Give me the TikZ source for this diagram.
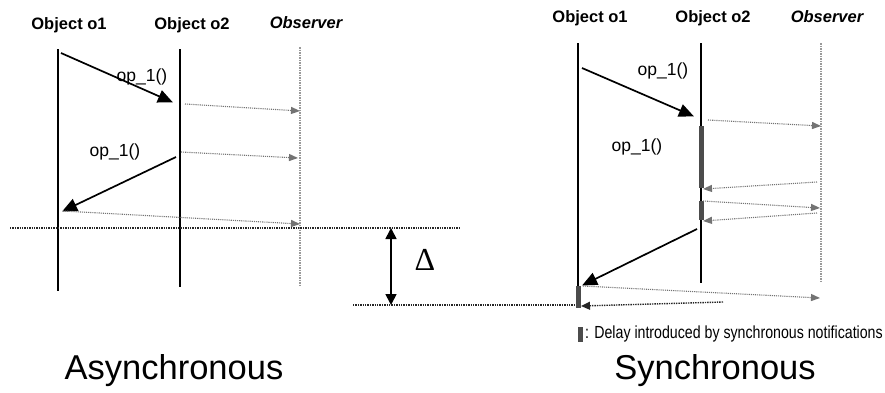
\documentclass[tikz,border=0pt]{standalone}
\usepackage{fontspec}
\setmainfont{Liberation Sans}
\newfontfamily\serifdelta{Liberation Serif}
\usetikzlibrary{arrows.meta}
\definecolor{notifgray}{gray}{0.45}
\definecolor{bargray}{gray}{0.3}
\tikzset{
  header/.style={font=\fontsize{16.5}{18}\selectfont\bfseries, inner sep=0pt},
  obsheader/.style={font=\fontsize{16.5}{18}\selectfont\bfseries\itshape, inner sep=0pt},
  oplabel/.style={font=\fontsize{17.5}{19}\selectfont, inner sep=0pt},
  title/.style={font=\fontsize{34.5}{38}\selectfont, inner sep=0pt},
  lifeline/.style={line width=1.5pt, black},
  obsline/.style={line width=1.5pt, gray!80, densely dotted},
  msg/.style={line width=1.7pt, black, -{Triangle[length=15pt,width=13pt]}, shorten >=-1pt},
  notif/.style={line width=1.1pt, notifgray, densely dotted, -{Triangle[length=9pt,width=7pt]}},
  darknotif/.style={line width=1.4pt, gray!30!black, densely dotted, -{Triangle[length=9pt,width=8pt]}},
  timeline/.style={line width=1.4pt, black!85, densely dotted},
  delaybar/.style={fill=bargray, draw=none},
  span/.style={line width=1.7pt, black, {Triangle[length=11pt,width=11pt]}-{Triangle[length=11pt,width=11pt]}}
}
\begin{document}
\begin{tikzpicture}[x=1pt,y=-1pt]
\useasboundingbox (0,0) rectangle (885,392);

% ---------------- Asynchronous ----------------
\node[header] (ah1) at (69,25) {Object o1};
\node[header] (ah2) at (192,25) {Object o2};
\node[obsheader] (ah3) at (306,23) {Observer};

\coordinate (ao1t) at (58,49);  \coordinate (ao1b) at (58,291);
\coordinate (ao2t) at (180,49); \coordinate (ao2b) at (180,287);
\coordinate (aobt) at (300,47); \coordinate (aobb) at (300,287);
\draw[lifeline] (ao1t) -- (ao1b);
\draw[lifeline] (ao2t) -- (ao2b);
\draw[obsline] (aobt) -- (aobb);

\coordinate (am1s) at (61,53);  \coordinate (am1e) at (172,102);
\draw[msg] (am1s) -- (am1e);
\node[oplabel] (al1) at (142,77) {op\_1()};

\coordinate (an1s) at (185,104); \coordinate (an1e) at (300,111);
\draw[notif] (an1s) -- (an1e);
\coordinate (an2s) at (181,152); \coordinate (an2e) at (298,158);
\draw[notif] (an2s) -- (an2e);

\node[oplabel] (al2) at (115,152) {op\_1()};
\coordinate (am2s) at (176,157); \coordinate (am2e) at (63,211);
\draw[msg] (am2s) -- (am2e);

\coordinate (an3s) at (63,211); \coordinate (an3e) at (300,224);
\draw[notif] (an3s) -- (an3e);

% time lines and delta
\coordinate (tl1s) at (10,228); \coordinate (tl1e) at (460,228);
\draw[timeline] (tl1s) -- (tl1e);
\coordinate (tl2s) at (353,305); \coordinate (tl2e) at (578,305);
\draw[timeline] (tl2s) -- (tl2e);
\coordinate (dtop) at (391,228); \coordinate (dbot) at (391,305);
\draw[span] (dtop) -- (dbot);
\node[inner sep=0pt, font=\serifdelta\fontsize{32}{34}\selectfont] (delta) at (425,260) {Δ};

% ---------------- Synchronous ----------------
\node[header] (sh1) at (590,18) {Object o1};
\node[header] (sh2) at (713,18) {Object o2};
\node[obsheader] (sh3) at (827,17) {Observer};

\coordinate (so1t) at (578,43);  \coordinate (so1b) at (578,308);
\coordinate (so2t) at (701,43);  \coordinate (so2b) at (701,283);
\coordinate (sobt) at (821,43);  \coordinate (sobb) at (821,282);
\draw[lifeline] (so1t) -- (so1b);
\draw[lifeline] (so2t) -- (so2b);
\draw[obsline] (sobt) -- (sobb);

% delay bars
\fill[delaybar] (699,126) rectangle (703.5,188);
\fill[delaybar] (699,201) rectangle (703.5,220);
\fill[delaybar] (576,286) rectangle (580.5,308);

\coordinate (sm1s) at (582,68); \coordinate (sm1e) at (693,116);
\draw[msg] (sm1s) -- (sm1e);
\node[oplabel] (sl1) at (663,71) {op\_1()};

\coordinate (sn1s) at (708,120); \coordinate (sn1e) at (821,126);
\draw[notif] (sn1s) -- (sn1e);

\node[oplabel] (sl2) at (637,147) {op\_1()};

\coordinate (sr1s) at (817,182); \coordinate (sr1e) at (703,189);
\draw[notif] (sr1s) -- (sr1e);
\coordinate (sn2s) at (703,201); \coordinate (sn2e) at (820,208);
\draw[notif] (sn2s) -- (sn2e);
\coordinate (sr2s) at (817,213); \coordinate (sr2e) at (703,221);
\draw[notif] (sr2s) -- (sr2e);

\coordinate (sm2s) at (697,229); \coordinate (sm2e) at (583,285);
\draw[msg] (sm2s) -- (sm2e);

\coordinate (sn3s) at (583,286); \coordinate (sn3e) at (820,298);
\draw[notif] (sn3s) -- (sn3e);
\coordinate (sr3s) at (723,302); \coordinate (sr3e) at (581,306);
\draw[darknotif] (sr3s) -- (sr3e);

% legend
\fill[delaybar] (578,327) rectangle (582.5,342);
\node[anchor=west, inner sep=0pt, font=\fontsize{17.5}{19}\selectfont, xscale=0.81] (legend) at (585,334) {: Delay introduced by synchronous notifications};

% titles
\node[title] (tasync) at (174,371) {Asynchronous};
\node[title] (tsync) at (715,371) {Synchronous};
\end{tikzpicture}
\end{document}
